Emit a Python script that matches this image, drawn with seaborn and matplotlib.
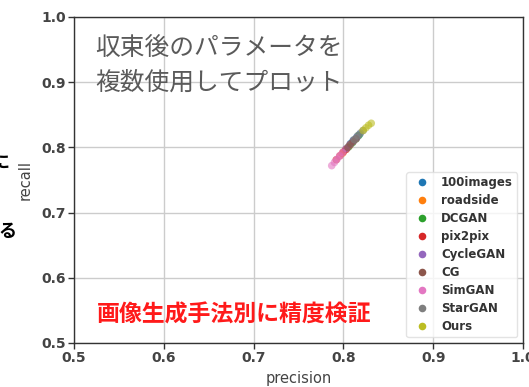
import numpy as np
import pandas as pd
import matplotlib
matplotlib.use("Agg")
import matplotlib.pyplot as plt
import seaborn as sns

# Precision / recall obtained with several converged parameter sets per method
methods = ["100images", "roadside", "DCGAN", "pix2pix", "CycleGAN",
           "CG", "SimGAN", "StarGAN", "Ours"]

precision = {
    "100images": [0.808, 0.811, 0.815, 0.818],
    "roadside":  [0.799, 0.803, 0.807],
    "DCGAN":     [0.806, 0.810, 0.814, 0.817],
    "pix2pix":   [0.792, 0.796, 0.800, 0.803],
    "CycleGAN":  [0.803, 0.807, 0.811, 0.815],
    "CG":        [0.805, 0.808, 0.811, 0.814],
    "SimGAN":    [0.787, 0.790, 0.793, 0.796, 0.799],
    "StarGAN":   [0.812, 0.816, 0.819, 0.822],
    "Ours":      [0.822, 0.825, 0.828, 0.831],
}
recall = {
    "100images": [0.806, 0.811, 0.816, 0.820],
    "roadside":  [0.791, 0.797, 0.803],
    "DCGAN":     [0.801, 0.807, 0.813, 0.818],
    "pix2pix":   [0.781, 0.787, 0.793, 0.797],
    "CycleGAN":  [0.798, 0.804, 0.810, 0.815],
    "CG":        [0.800, 0.805, 0.809, 0.813],
    "SimGAN":    [0.772, 0.777, 0.782, 0.787, 0.792],
    "StarGAN":   [0.812, 0.818, 0.822, 0.826],
    "Ours":      [0.826, 0.830, 0.834, 0.837],
}

axis_ticks = [0.5, 0.6, 0.7, 0.8, 0.9, 1.0]
note_text = "収束後のパラメータを\n複数使用してプロット"
title_text = "画像生成手法別に精度検証"

rows = []
for m in methods:
    for p, r in zip(precision[m], recall[m]):
        rows.append({"method": m, "precision": p, "recall": r})
df = pd.DataFrame(rows)

sns.set_theme(style="whitegrid")
plt.rcParams["font.family"] = ["DejaVu Sans", "Noto Sans CJK JP"]

W, H = 529, 387
fig = plt.figure(figsize=(W / 100, H / 100), dpi=100)
ax = fig.add_axes([74 / W, 1 - 343 / H, (523 - 74) / W, (343 - 17) / H])

sns.scatterplot(data=df, x="precision", y="recall", hue="method",
                hue_order=methods, palette="tab10", s=30, alpha=0.6,
                edgecolor="none", ax=ax)

ax.set_xlim(0.5, 1.0)
ax.set_ylim(0.5, 1.0)
ax.set_xticks(axis_ticks)
ax.set_yticks(axis_ticks)
ax.set_xticklabels([f"{t:.1f}" for t in axis_ticks], fontsize=10,
                   fontweight="bold", color="#444444")
ax.set_yticklabels([f"{t:.1f}" for t in axis_ticks], fontsize=10,
                   fontweight="bold", color="#444444")
ax.set_xlabel("precision", fontsize=10.5, color="#444444", labelpad=4)
ax.set_ylabel("recall", fontsize=10.5, color="#444444", labelpad=6)
ax.set_facecolor("white")
ax.grid(True, color="#cccccc", linewidth=1.0)
for side in ax.spines.values():
    side.set_color("#333333")
    side.set_linewidth(1.0)
ax.tick_params(axis="both", which="both", direction="out", length=4,
               width=1, color="#333333", left=True, bottom=True, pad=2)

leg = ax.legend(loc="lower right", frameon=True,
                prop={"weight": "bold", "size": 8.5},
                borderaxespad=0.5, handletextpad=0.6, labelspacing=0.42,
                markerscale=1.0, borderpad=0.35)
leg.get_frame().set_edgecolor("#dddddd")
for t in leg.get_texts():
    t.set_color("#333333")
for h in leg.legend_handles:
    h.set_alpha(1.0)

ax.text(0.047, 0.945, note_text, transform=ax.transAxes, ha="left", va="top",
        fontsize=17.8, color="#5a5a5a", linespacing=1.42,
        family=["Noto Sans CJK JP"], fontweight="normal")

ax.text(0.05, 0.085, title_text, transform=ax.transAxes, ha="left",
        va="center", fontsize=16.5, color="#ff1a1a", fontweight="bold",
        family=["Noto Sans CJK JP"])

# fragments of neighbouring slide text at the left edge
fig.text(-9 / W, 1 - 163 / H, "に", ha="left", va="center", fontsize=13,
         color="black", fontweight="bold", family=["Noto Sans CJK JP"])
fig.text(-2 / W, 1 - 231 / H, "る", ha="left", va="center", fontsize=13,
         color="black", fontweight="bold", family=["Noto Sans CJK JP"])

fig.savefig("out.png", dpi=100)
